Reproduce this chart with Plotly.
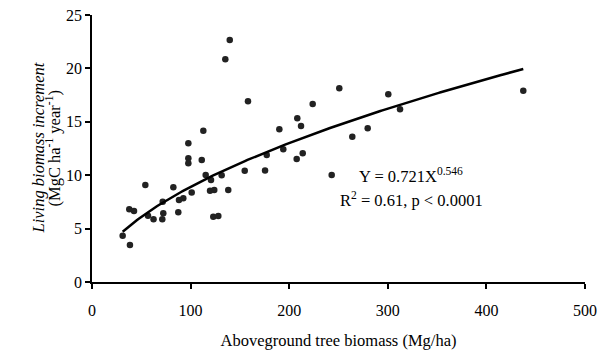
import numpy as np
import plotly.graph_objects as go

biomass = [31.1, 38.5, 37.8, 42.6, 54.1, 56.8, 62.4, 71.3, 72.3, 71.7, 82.5, 87.5, 88.2, 92.6,
           97.7, 97.7, 97.7, 101.1, 111.3, 112.9, 115.3, 120.7, 119.7, 124.0, 123.0, 128.1,
           131.5, 138.2, 139.7, 135.2, 154.9, 158.2, 175.5, 177.2, 190.0, 194.0, 212.0, 208.2,
           207.6, 213.7, 223.8, 243.1, 250.8, 264.0, 279.6, 300.5, 312.4, 437.4]
increment = [4.34, 3.46, 6.81, 6.65, 9.08, 6.21, 5.87, 5.87, 6.43, 7.52, 8.87, 6.53, 7.68, 7.84,
             12.99, 11.58, 11.11, 8.38, 11.42, 14.17, 10.02, 9.55, 8.55, 8.61, 6.11, 6.18,
             9.99, 8.61, 22.66, 20.85, 10.42, 16.92, 10.44, 11.89, 14.30, 12.43, 14.61, 15.33,
             11.52, 12.05, 16.67, 10.02, 18.14, 13.60, 14.39, 17.58, 16.17, 17.91]

# Fitted power model shown on the chart
fit_a = 0.721
fit_b = 0.546
fit_x = np.linspace(min(biomass), max(biomass), 200)
fit_y = fit_a * fit_x ** fit_b

serif = "Liberation Serif"

fig = go.Figure()
fig.add_trace(go.Scatter(x=biomass, y=increment, mode="markers",
                         marker=dict(color="#222222", size=6.5),
                         showlegend=False))
fig.add_trace(go.Scatter(x=fit_x, y=fit_y, mode="lines",
                         line=dict(color="black", width=2.5),
                         showlegend=False))

axis_common = dict(showline=True, linecolor="black", linewidth=1.5,
                   ticks="outside", ticklen=5, tickwidth=1.5, tickcolor="black",
                   showgrid=False, zeroline=False, automargin=False,
                   tickfont=dict(family=serif, size=16, color="black"))

fig.update_xaxes(range=[0, 500], dtick=100, tick0=0, ticklabelstandoff=8,
                 **axis_common,
                 title=dict(text="Aboveground tree biomass (Mg/ha)",
                            font=dict(family=serif, size=16.5, color="black"),
                            standoff=16))
fig.update_yaxes(range=[0, 25], dtick=5, tick0=0, **axis_common)

fig.add_annotation(xref="paper", yref="paper", x=0, y=0.5, xshift=-54,
                   text="<i>Living biomass increment</i>", textangle=-90,
                   showarrow=False, xanchor="center", yanchor="middle",
                   font=dict(family=serif, size=16.5, color="black"))
fig.add_annotation(xref="paper", yref="paper", x=0, y=0.5, xshift=-38,
                   text="(MgC ha<sup>-1</sup> year<sup>-1</sup>)", textangle=-90,
                   showarrow=False, xanchor="center", yanchor="middle",
                   font=dict(family=serif, size=16.5, color="black"))

fig.add_annotation(x=324, y=10.0, xref="x", yref="y",
                   text="Y = 0.721X<sup>0.546</sup>", showarrow=False,
                   xanchor="center", yanchor="middle",
                   font=dict(family=serif, size=16.5, color="black"))
fig.add_annotation(x=324, y=7.7, xref="x", yref="y",
                   text="R<sup>2</sup> = 0.61, p < 0.0001", showarrow=False,
                   xanchor="center", yanchor="middle",
                   font=dict(family=serif, size=16.5, color="black"))

fig.update_layout(width=597, height=356,
                  margin=dict(l=92, r=12, t=15, b=74),
                  plot_bgcolor="white", paper_bgcolor="white")

fig.write_html("out.html")
